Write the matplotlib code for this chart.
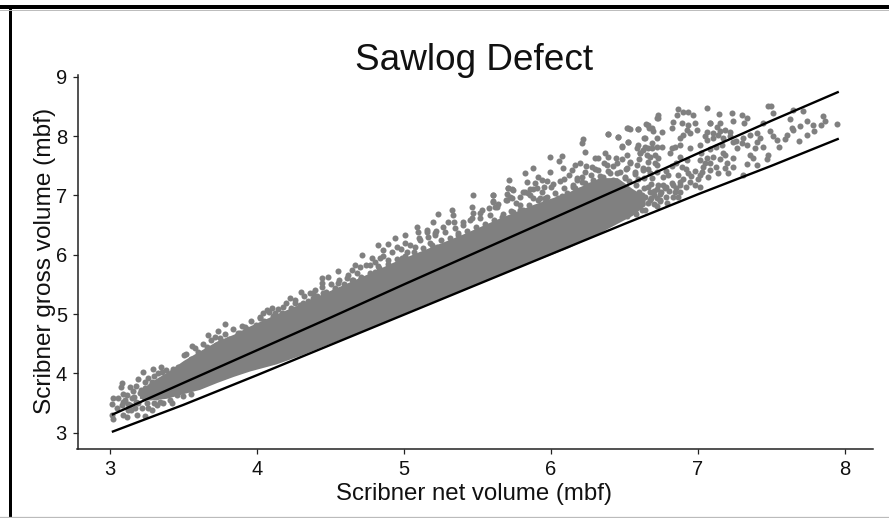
import matplotlib.pyplot as plt
from matplotlib.lines import Line2D
from matplotlib.patches import Rectangle

plt.rcParams["font.family"] = ["Liberation Sans", "DejaVu Sans"]

# values
upper_x = [3.02, 3.5, 4.0, 4.5, 5.0, 5.5, 6.0, 6.5, 7.0, 7.5, 7.95]
upper_y = [3.31, 3.84, 4.39, 4.94, 5.50, 6.05, 6.60, 7.15, 7.71, 8.26, 8.74]
lower_x = [3.02, 3.5, 4.0, 4.5, 5.0, 5.5, 6.0, 6.5, 7.0, 7.5, 7.95]
lower_y = [3.02, 3.47, 3.97, 4.48, 4.99, 5.50, 6.01, 6.52, 7.02, 7.50, 7.95]

# solid part of the cloud, where single points can not be told apart
band_x = [3.2, 3.27, 3.385, 3.5, 3.61, 3.73, 3.84, 3.95, 4.13, 4.29, 4.47, 4.70, 4.93, 5.15, 5.40, 5.65, 5.88, 6.11, 6.33, 6.45, 6.55, 6.64]
band_top = [3.69, 3.85, 4.02, 4.22, 4.38, 4.55, 4.66, 4.80, 5.00, 5.17, 5.37, 5.62, 5.88, 6.10, 6.35, 6.62, 6.85, 7.05, 7.30, 7.30, 7.12, 6.98]
band_bottom = [3.58, 3.55, 3.58, 3.66, 3.73, 3.85, 3.95, 4.04, 4.16, 4.30, 4.48, 4.70, 4.94, 5.17, 5.40, 5.66, 5.89, 6.11, 6.37, 6.53, 6.66, 6.84]

# single points at the edges of the cloud
left_x = [3.782, 3.669, 3.737, 3.714, 3.918, 3.884, 3.556, 3.503, 3.227, 3.295, 3.345, 3.079, 3.073, 3.193, 3.261, 3.283, 3.329, 3.351, 3.431, 3.42, 3.136, 3.159, 3.238, 3.204, 3.113, 3.023, 3.057, 3.011, 3.091, 3.147, 3.261, 3.317, 3.363, 3.397, 3.011, 3.023, 3.091, 3.113, 3.125, 3.181, 3.238, 3.283, 3.215, 3.317, 3.363, 3.408, 3.42, 3.454, 3.25, 3.193, 3.136]
left_y = [4.827, 4.647, 4.715, 4.619, 4.788, 4.686, 4.462, 4.31, 4.017, 4.068, 4.113, 3.843, 3.776, 3.899, 3.916, 3.86, 4.0, 4.029, 4.068, 3.973, 3.776, 3.708, 3.748, 3.663, 3.635, 3.579, 3.579, 3.483, 3.523, 3.579, 3.635, 3.692, 3.776, 3.832, 3.298, 3.225, 3.298, 3.27, 3.382, 3.298, 3.281, 3.382, 3.41, 3.467, 3.495, 3.551, 3.495, 3.635, 3.495, 3.495, 3.467]

low_x = [3.05, 3.08, 3.1, 3.12, 3.16, 3.18, 3.21, 3.23, 3.26, 3.28, 3.31, 3.33, 3.36, 3.38, 3.41, 3.44, 3.46, 3.14, 3.17, 3.26, 3.3, 3.34, 3.09, 3.18, 3.3, 3.24, 3.38, 3.46, 3.5, 3.55]
low_y = [3.42, 3.46, 3.55, 3.48, 3.6, 3.52, 3.72, 3.6, 3.7, 3.78, 3.6, 3.82, 3.68, 3.92, 3.75, 3.95, 3.72, 3.38, 3.42, 3.42, 3.5, 3.52, 3.65, 3.78, 3.95, 3.86, 4.05, 4.1, 3.62, 3.66]

mid_x = [5.006, 5.097, 5.154, 5.21, 4.938, 4.893, 4.825, 4.854, 4.712, 4.78, 4.836, 4.893, 4.95, 5.006, 5.018, 5.074, 5.108, 5.176, 5.222, 5.108, 4.984, 4.666, 4.7, 4.644, 4.548, 4.485, 4.44, 4.44, 4.553, 4.61, 4.644, 4.7, 4.299, 4.394, 4.36, 4.451, 4.53, 4.224, 4.383, 4.258, 4.179, 4.099, 4.065, 4.122, 4.043, 4.02, 4.315, 4.802, 4.768, 4.825]
mid_y = [6.334, 6.39, 6.39, 6.334, 6.277, 6.182, 6.165, 6.081, 5.996, 5.94, 5.94, 5.912, 6.137, 6.193, 6.053, 6.137, 6.249, 6.193, 6.137, 5.996, 5.94, 5.828, 5.8, 5.743, 5.727, 5.631, 5.603, 5.519, 5.519, 5.603, 5.575, 5.575, 5.378, 5.406, 5.35, 5.35, 5.406, 5.266, 5.266, 5.181, 5.125, 5.097, 5.069, 5.013, 5.013, 4.957, 5.181, 5.715, 5.828, 5.81]

edge_x = [3.52, 3.55, 3.58, 3.60, 3.63, 3.66, 3.69, 3.72, 3.75, 3.78, 3.81, 3.84, 3.87, 3.90, 3.93, 3.96, 3.99, 4.02, 4.05, 4.08, 4.11, 4.14, 4.17, 4.20, 4.23, 4.26, 4.29, 4.32, 4.35, 4.38, 4.41, 4.44, 4.47, 4.50, 4.53, 4.56, 4.59, 4.62, 4.65, 4.68, 4.71, 4.74, 4.77, 4.80, 4.83, 4.86, 4.89, 4.92, 4.95, 4.98, 5.01, 5.04, 5.07, 5.10, 5.13, 5.16, 5.19, 5.22, 5.25, 5.28, 5.31, 5.34, 5.37, 5.40, 5.43, 5.46, 5.49, 5.52, 5.55, 5.58, 5.61, 5.64, 5.67, 5.70, 5.73, 5.76, 5.79, 5.82, 5.85, 5.88, 5.91, 5.94, 5.97, 6.00, 6.03, 6.06, 6.09, 6.12, 6.15, 6.18, 6.21, 6.24, 6.27, 6.30, 6.33, 6.36, 6.39, 6.42, 6.45, 6.48, 6.51, 6.54, 6.57, 6.60, 6.63, 6.66, 6.69, 6.72]
edge_y = [4.32, 4.25, 4.42, 4.36, 4.50, 4.44, 4.56, 4.48, 4.60, 4.66, 4.58, 4.74, 4.68, 4.80, 4.75, 4.88, 4.82, 4.93, 4.88, 5.03, 4.97, 5.08, 5.02, 5.18, 5.10, 5.24, 5.16, 5.30, 5.22, 5.36, 5.30, 5.45, 5.38, 5.50, 5.44, 5.58, 5.50, 5.66, 5.58, 5.70, 5.62, 5.82, 5.70, 5.88, 5.78, 5.98, 5.84, 6.05, 5.92, 6.10, 5.98, 6.16, 6.04, 6.28, 6.12, 6.30, 6.16, 6.40, 6.24, 6.38, 6.28, 6.55, 6.34, 6.50, 6.40, 6.62, 6.46, 6.70, 6.52, 6.78, 6.58, 6.86, 6.68, 6.92, 6.74, 6.88, 6.76, 7.05, 6.84, 7.10, 6.92, 7.05, 6.98, 7.15, 7.04, 7.25, 7.12, 7.35, 7.18, 7.30, 7.22, 7.50, 7.35, 7.45, 7.32, 7.55, 7.42, 7.50, 7.38, 7.62, 7.44, 7.55, 7.36, 7.62, 7.30, 7.45, 7.30, 7.40]

high_x = [5.472, 5.604, 5.608, 5.631, 5.71, 5.744, 5.722, 5.79, 5.846, 5.903, 5.88, 5.96, 5.461, 5.529, 5.472, 5.325, 5.336, 5.234, 5.2, 5.302, 5.404, 5.45, 5.087, 5.155, 5.268, 5.211, 5.347, 5.37, 5.517, 5.586, 5.665, 5.744, 5.812, 5.914, 6.039, 6.107, 6.164, 6.232, 6.39, 6.515, 6.537, 6.59, 6.644, 6.667, 6.692, 6.73, 6.458, 6.526, 6.481, 6.635, 6.22, 6.209, 6.231, 6.073, 5.993, 6.057, 6.079, 5.88, 5.823, 5.993, 5.714, 5.834, 5.914, 5.936, 5.971, 6.016, 6.091, 5.955, 5.891, 5.857, 5.812, 5.71, 5.737, 5.698, 5.694, 5.732, 5.603, 5.608, 5.619, 5.789, 5.857, 5.925, 5.959, 6.05, 6.073, 6.175, 6.209, 6.231, 6.163, 6.197, 6.299, 6.322, 6.367, 6.39, 6.442, 6.515, 6.277, 6.322, 6.379, 6.447, 6.537, 6.515, 6.469, 6.401, 6.356, 6.288, 6.265, 6.322, 6.424, 6.141, 6.152, 6.197, 6.583, 6.605, 6.64, 6.685, 6.719, 6.651, 6.707, 6.662, 6.719, 6.583, 6.628, 6.571, 6.503, 6.447]
high_y = [7.008, 7.008, 6.896, 6.811, 7.121, 7.093, 6.98, 6.98, 7.036, 7.121, 6.952, 6.952, 6.811, 6.755, 6.699, 6.755, 6.671, 6.688, 6.558, 6.558, 6.558, 6.587, 6.474, 6.418, 6.474, 6.362, 6.446, 6.362, 6.615, 6.671, 6.643, 6.727, 6.755, 6.811, 6.924, 7.036, 7.121, 7.205, 8.037, 8.133, 8.116, 8.116, 8.2, 8.144, 8.093, 8.3, 7.981, 7.896, 7.823, 7.964, 7.953, 7.88, 7.739, 7.672, 7.644, 7.582, 7.458, 7.469, 7.374, 7.402, 7.261, 7.233, 7.306, 7.261, 7.25, 7.194, 7.278, 7.138, 7.205, 7.11, 7.065, 7.121, 7.104, 7.025, 6.924, 6.952, 7.008, 6.907, 6.8, 6.84, 7.008, 6.952, 6.896, 6.952, 6.99, 7.261, 7.318, 7.402, 7.514, 7.542, 7.627, 7.638, 7.711, 7.655, 7.627, 7.683, 7.486, 7.43, 7.514, 7.542, 7.57, 7.458, 7.402, 7.374, 7.318, 7.261, 7.177, 7.205, 7.261, 7.43, 7.149, 7.093, 7.795, 7.711, 7.823, 7.795, 7.823, 7.683, 7.683, 7.57, 7.514, 7.514, 7.43, 7.402, 7.318, 7.177]

right_x = [7.948, 7.853, 7.864, 7.834, 7.784, 7.739, 7.694, 7.79, 7.743, 7.689, 7.648, 7.603, 7.637, 7.59, 7.55, 7.512, 7.49, 7.535, 7.478, 7.494, 7.512, 7.716, 7.648, 7.625, 7.444, 7.331, 7.297, 7.313, 7.229, 7.24, 7.145, 7.059, 7.149, 7.08, 6.866, 6.9, 6.934, 6.968, 6.855, 6.832, 6.82, 6.889, 6.934, 6.979, 6.991, 6.923, 6.877, 6.9, 6.945, 6.843, 6.877, 6.821, 6.73, 6.718, 6.662, 6.685, 6.594, 6.526, 6.39, 6.458, 6.526, 6.48, 6.639, 6.752, 6.718, 6.685, 6.752, 6.594, 6.628, 6.662, 6.605, 6.673, 6.73, 6.809, 6.877, 6.945, 7.013, 7.059, 7.104, 7.138, 7.172, 7.059, 7.127, 7.183, 7.217, 7.081, 7.24, 7.308, 7.399, 7.421, 7.263, 7.331, 7.387, 7.444, 7.353, 7.376, 7.399, 7.478, 7.467, 7.331, 7.308, 7.24, 7.195, 7.183, 7.24, 7.206, 7.138, 7.104, 7.172, 7.059, 7.013, 7.036, 7.081, 7.013, 7.07, 7.013, 6.979, 6.934, 6.945, 6.889, 6.923, 6.866, 6.877, 6.843, 6.866, 6.798, 6.82, 6.764, 6.775, 6.73, 6.741, 6.673, 6.673, 6.628, 6.707]
right_y = [8.205, 8.335, 8.25, 8.18, 8.19, 8.25, 8.17, 8.08, 8.025, 7.91, 8.11, 8.025, 8.14, 7.95, 7.81, 7.997, 8.08, 7.94, 8.5, 8.5, 8.39, 8.42, 8.44, 8.29, 8.22, 8.31, 8.36, 8.22, 8.39, 8.25, 8.38, 8.476, 8.22, 8.22, 8.453, 8.414, 8.414, 8.358, 8.357, 8.245, 8.133, 8.217, 8.189, 8.217, 8.105, 8.105, 7.964, 8.02, 8.048, 7.824, 7.852, 7.795, 8.357, 8.301, 8.189, 8.133, 8.121, 8.133, 8.037, 7.981, 7.908, 7.835, 7.964, 8.076, 7.964, 7.88, 7.812, 7.852, 7.767, 7.795, 7.711, 7.655, 7.627, 7.711, 7.655, 7.795, 7.852, 7.936, 7.964, 8.02, 7.964, 8.076, 8.161, 8.105, 8.076, 8.217, 7.908, 7.964, 8.048, 7.964, 7.795, 7.852, 7.795, 7.823, 7.683, 7.627, 7.514, 7.683, 7.61, 7.531, 7.346, 7.627, 7.542, 7.458, 7.486, 7.374, 7.374, 7.655, 7.711, 7.627, 7.599, 7.486, 7.43, 7.346, 7.318, 7.149, 7.177, 7.374, 7.233, 7.486, 7.599, 7.346, 7.177, 7.065, 6.98, 7.346, 7.205, 7.318, 7.121, 7.177, 6.924, 6.924, 7.374, 7.458, 7.542]

blob_x = [6.72, 6.75, 6.78, 6.80, 6.83, 6.85, 6.88, 6.90, 6.92, 6.95, 6.98, 7.0, 7.03, 7.05, 7.08, 7.12, 7.15, 7.18, 6.78, 6.82, 6.85, 6.92, 7.02, 7.08, 7.12, 7.16, 7.05, 7.1, 7.15, 7.22, 7.26, 7.3, 7.35, 7.4]
blob_y = [6.95, 7.05, 6.98, 7.08, 7.18, 7.12, 7.05, 7.28, 7.15, 7.32, 7.42, 7.28, 7.40, 7.55, 7.55, 7.48, 7.62, 7.68, 7.42, 7.50, 7.55, 7.45, 7.72, 7.78, 7.82, 7.85, 8.0, 8.05, 8.08, 8.0, 7.92, 7.88, 8.02, 7.9]

tail_x = [6.47, 6.5, 6.52, 6.55, 6.57, 6.6, 6.62, 6.64, 6.66, 6.68, 6.7, 6.72, 6.74, 6.5, 6.53, 6.58, 6.62, 6.48, 6.46, 6.67, 6.56, 6.6, 6.52, 6.64, 6.7, 6.76, 6.79, 6.83, 6.88, 6.5, 6.58, 6.62, 6.66, 6.7, 6.74, 6.78, 6.72, 6.68, 6.63, 6.59]
tail_y = [6.7, 6.85, 6.65, 6.95, 6.72, 7.05, 6.85, 6.75, 7.15, 6.95, 6.85, 7.1, 6.9, 7.1, 7.25, 7.18, 7.0, 7.0, 7.2, 7.05, 6.84, 6.9, 6.98, 6.98, 7.0, 7.18, 6.88, 6.98, 7.22, 7.3, 6.68, 6.76, 6.88, 7.08, 7.02, 7.14, 6.82, 7.2, 7.12, 7.28]

x_ticks = [3, 4, 5, 6, 7, 8]
y_ticks = [3, 4, 5, 6, 7, 8, 9]

GREY = "#808080"

fig = plt.figure(figsize=(8.89, 5.18), dpi=100)
W, H = 889, 518
ax = fig.add_axes([77.5 / W, 1 - 449 / H, (873 - 77.5) / W, (449 - 75) / H])

ax.fill_between(band_x, band_bottom, band_top, color=GREY, lw=0, zorder=2)
clouds = [(left_x, left_y), (low_x, low_y), (mid_x, mid_y), (edge_x, edge_y), (high_x, high_y), (right_x, right_y), (blob_x, blob_y), (tail_x, tail_y)]
for xs, ys in clouds:
    ax.scatter(xs, ys, s=19, color=GREY, linewidths=0, zorder=2)

ax.plot(upper_x, upper_y, color="black", lw=1.7, zorder=3)
ax.plot(lower_x, lower_y, color="black", lw=1.7, zorder=3)

ax.set_xlim(2.779, 8.19)
ax.set_ylim(2.725, 9.03)
ax.set_xticks(x_ticks)
ax.set_yticks(y_ticks)
ax.tick_params(labelsize=14.5, length=3.6, width=0.9, color="#222222", labelcolor="#111111", pad=4)
ax.spines["top"].set_visible(False)
ax.spines["right"].set_visible(False)
ax.spines["left"].set_linewidth(1.1)
ax.spines["bottom"].set_linewidth(1.1)
ax.spines["left"].set_color("#222222")
ax.spines["bottom"].set_color("#222222")

fig.text(474 / W, 1 - 60 / H, "Sawlog Defect", fontsize=26.6, ha="center", va="center", color="#111111")
fig.text(474 / W, 1 - 494 / H, "Scribner net volume (mbf)", fontsize=17.3, ha="center", va="center", color="#111111")
fig.text(45 / W, 1 - 261 / H, "Scribner gross volume (mbf)", fontsize=17.6, rotation=90, ha="center", va="center", color="#111111")

# frame of the original scan
fig.add_artist(Rectangle((0, 1 - 9 / H), 1, 4 / H, transform=fig.transFigure, color="black", lw=0))
fig.add_artist(Rectangle((9 / W, 0), 2.5 / W, 1 - 5 / H, transform=fig.transFigure, color="black", lw=0))
fig.add_artist(Line2D([0, 1], [1 - 9.5 / H, 1 - 9.5 / H], color="#bbbbbb", lw=0.7))
fig.add_artist(Line2D([0, 1], [1 - 517 / H, 1 - 517 / H], color="#bbbbbb", lw=0.9))

fig.savefig("out.png", dpi=100)
